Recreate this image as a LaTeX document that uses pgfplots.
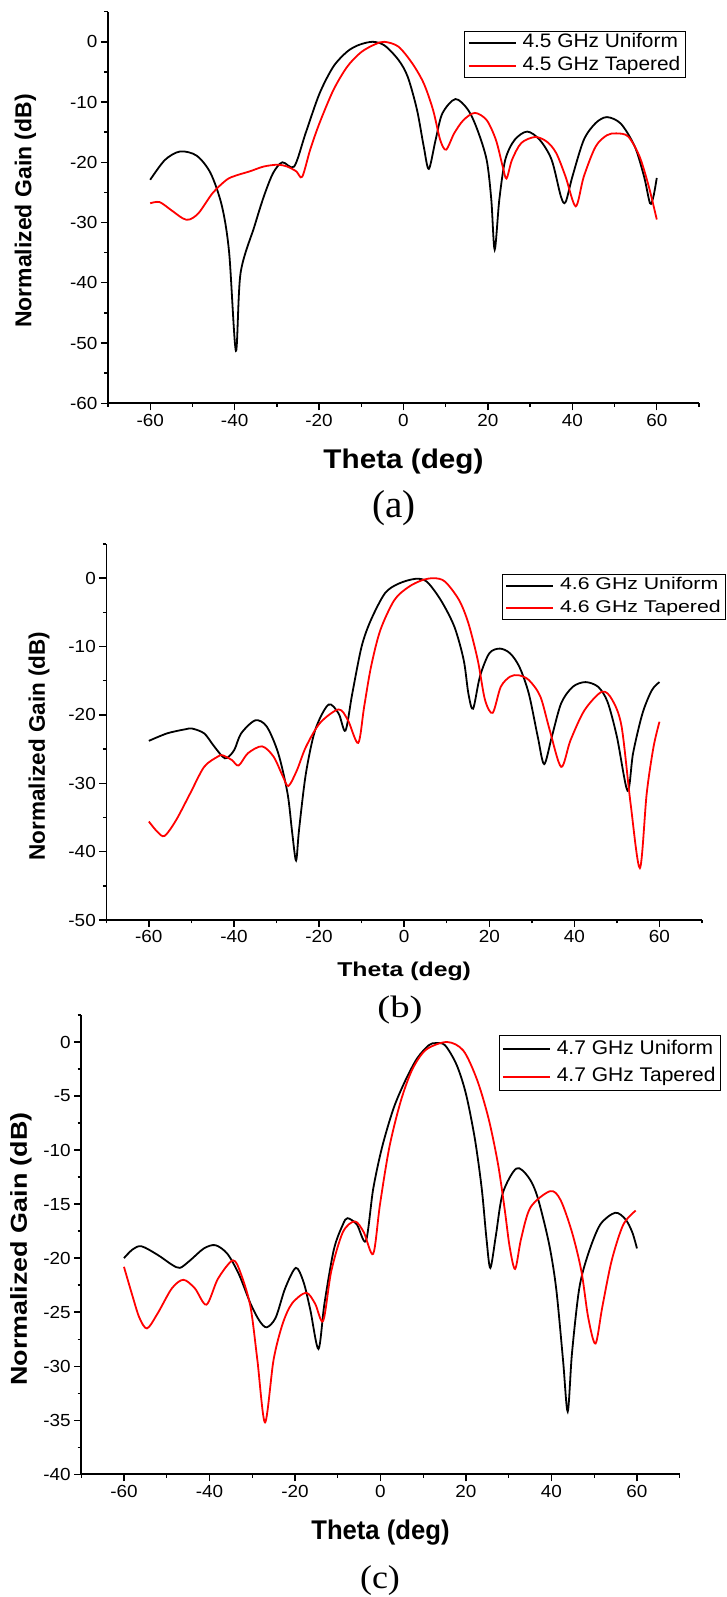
\documentclass[border=0pt]{standalone}
\usepackage{graphicx}
\usepackage{fontspec}
\setmainfont{Liberation Sans}
\newfontfamily\seriffont{Liberation Serif}
\usepackage{pgfplots}
\pgfplotsset{compat=1.18}
\newcommand{\fs}[1]{\fontsize{#1}{#1}\selectfont}

\pgfplotsset{
  myaxis/.style={
    scale only axis,
    axis lines*=left,
    tick align=outside,
    xmin=-70, xmax=70,
    xtick={-60,-40,...,60},
    minor xtick={-70,-50,...,70},
    major tick length=7pt,
    minor tick length=3.5pt,
    tick style={black, line width=1.4pt},
    axis line style={line width=1.6pt},
    /pgf/number format/assume math mode=true,
    tick label style={font=\fs{17.5}},
    xticklabel={\fs{17.5}\scalebox{1.08}[1]{\pgfmathprintnumber{\tick}}},
    yticklabel={\fs{17.5}\scalebox{1.08}[1]{\pgfmathprintnumber{\tick}}},
    legend cell align=left,
    legend image code/.code={\draw[##1, line width=1.8pt] (0pt,0pt) -- (47pt,0pt);},
    legend style={anchor=north west, draw=black, line width=0.8pt, inner xsep=3pt, inner ysep=0pt, row sep=0pt, column sep=4pt},
  },
  uni/.style={black, line width=1.8pt, smooth},
  tap/.style={red, line width=1.8pt, smooth},
}

\begin{document}
\begin{tikzpicture}
\useasboundingbox (0pt,0pt) rectangle (727pt,1597pt);

% ---------------- (a) ----------------
\begin{axis}[myaxis,
  at={(108pt,1193.7pt)}, anchor=south west,
  width=591pt, height=391.6pt,
  ymin=-60, ymax=5,
  ytick={-60,-50,...,0}, minor ytick={-55,-45,...,5},
  xlabel={\scalebox{1.1}[1]{Theta (deg)}},
  ylabel={Normalized Gain (dB)},
  xlabel style={font=\bfseries\fs{27}, at={(axis description cs:0.5,-0.166)}, anchor=base},
  ylabel style={font=\bfseries\fs{23}, at={(axis description cs:-0.1396,0.491)}, anchor=center},
  legend style={at={(axis description cs:0.603,0.951)}, font=\fs{19.5},
    nodes={text height=14pt, text depth=4pt, inner ysep=2.5pt, inner xsep=2pt}},
]
\addplot[uni] coordinates {
(-60,-22.9) (-56.5,-19.6) (-52.9,-18.2) (-49,-18.9) (-45.7,-21.8) (-43,-27.3) (-41.3,-35) (-39.7,-51.3)
(-38.6,-38.4) (-35.3,-30.6) (-33.1,-25.7) (-30.9,-21.8) (-28.7,-20) (-25.9,-20.7) (-23.2,-15.2)
(-19.9,-8.6) (-16.6,-4.1) (-13.3,-1.6) (-10.5,-0.5) (-7.3,0) (-4.5,-0.6) (-1.2,-3) (1,-5.8)
(3.2,-11.3) (4.8,-17.4) (6,-21.1) (7.6,-16.3) (9.2,-11.9) (12.3,-9.5) (15.3,-11.3) (17.5,-14.6)
(19.7,-19.6) (20.8,-26.2) (21.6,-34.5) (22.7,-26.2) (24.1,-19.6) (26.3,-16.3) (29.3,-14.9)
(32.3,-16.3) (35.1,-19.6) (37.3,-25.7) (38.4,-26.6) (40,-22.4) (42.7,-16.3) (45.5,-13.5)
(48.2,-12.5) (51.5,-13.6) (54.8,-17.4) (57,-22.4) (58.4,-26.8) (59.2,-25.7) (60,-22.6)
};
\addlegendentry{\scalebox{1.07}[1]{4.5 GHz Uniform}}
\addplot[tap] coordinates {
(-60,-26.8) (-57.8,-26.6) (-55.1,-27.9) (-52.3,-29.3) (-50.7,-29.5) (-48.5,-28.4) (-45.2,-25.1)
(-41.9,-22.9) (-39.7,-22.2) (-36.4,-21.5) (-33.1,-20.7) (-29.8,-20.4) (-27.6,-20.7) (-25.4,-21.5)
(-24,-22.4) (-22.1,-17.9) (-19.9,-13.5) (-16.6,-8) (-13.3,-4.1) (-10,-1.7) (-6.7,-0.4) (-4.5,0)
(-1.2,-0.8) (2.1,-3.6) (4.8,-6.9) (7,-11.3) (8.7,-16.3) (10.1,-17.9) (12,-15.2) (14.2,-13)
(16.9,-11.8) (19.7,-13) (21.9,-16.3) (23.5,-20.7) (24.4,-22.7) (25.7,-19.6) (27.9,-16.8)
(31.2,-15.8) (34,-16.6) (36.2,-18.5) (38.4,-22.4) (40.8,-27.3) (42.7,-22.4) (45.5,-17.4)
(48.2,-15.5) (50.4,-15.2) (53.2,-15.7) (55.9,-19) (58.1,-24) (60,-29.5)
};
\addlegendentry{\scalebox{1.07}[1]{4.5 GHz Tapered}}
\end{axis}

% ---------------- (b) ----------------
\begin{axis}[myaxis,
  at={(106.3pt,677pt)}, anchor=south west,
  width=595.7pt, height=376pt,
  ymin=-50, ymax=5,
  ytick={-50,-40,...,0}, minor ytick={-45,-35,...,5},
  xlabel={\scalebox{1.24}[1]{Theta (deg)}},
  ylabel={Normalized Gain (dB)},
  xlabel style={font=\bfseries\fs{20}, at={(axis description cs:0.5,-0.1508)}, anchor=base},
  ylabel style={font=\bfseries\fs{22.5}, at={(axis description cs:-0.113,0.463)}, anchor=center},
  legend style={at={(axis description cs:0.664,0.920)}, font=\fs{17},
    nodes={text height=12pt, text depth=3.5pt, inner ysep=3.5pt, inner xsep=2pt}},
]
\addplot[uni] coordinates {
(-60,-23.8) (-55.7,-22.7) (-51.4,-22.1) (-49.8,-22) (-47,-22.7) (-44.9,-24.4) (-42.7,-26.1)
(-41.6,-26.3) (-39.9,-25.1) (-38.3,-22.7) (-35,-20.8) (-32.3,-21.7) (-29.6,-25.6) (-27.4,-31.5)
(-26.3,-37.3) (-25.4,-41.3) (-24.7,-36.8) (-23.1,-28.6) (-20.9,-22.2) (-17.8,-18.5) (-15.4,-19.8)
(-13.8,-22.3) (-12.2,-16.9) (-10,-10) (-7.8,-6.1) (-4.5,-2.2) (-1.3,-0.8) (2.6,-0.1) (5.3,-0.5)
(8.6,-3.2) (11.8,-7.1) (14,-12) (15.1,-16.9) (16.2,-19.1) (17.8,-14.4) (20,-11) (22.5,-10.3)
(24.9,-11) (27.1,-13) (29.3,-16.9) (31.4,-23.2) (32.9,-27.2) (34.7,-23.2) (36.9,-18.3)
(39.6,-15.9) (42.6,-15.2) (45.6,-15.9) (47.8,-18.1) (50,-23.2) (52.5,-31.1) (53.8,-25.6)
(56,-19.8) (58.2,-16.4) (60,-15.2)
};
\addlegendentry{\scalebox{1.25}[1]{4.6 GHz Uniform}}
\addplot[tap] coordinates {
(-60,-35.6) (-58,-37.1) (-56.3,-37.7) (-53.6,-35.4) (-50.3,-31.5) (-47,-27.6) (-43.8,-26.1)
(-42.7,-25.9) (-40.5,-26.6) (-38.9,-27.4) (-36.7,-25.6) (-33.4,-24.6) (-30.7,-26.1) (-28.5,-29)
(-27.2,-30.4) (-25.2,-28.1) (-23.1,-24.7) (-19.8,-21.2) (-15.4,-19.2) (-13.2,-20.8) (-10.8,-24.1)
(-9.4,-18.8) (-7.8,-13) (-5.6,-7.6) (-2.3,-3.2) (1,-1.3) (4.2,-0.3) (7,0) (9.6,-0.5) (12.9,-3.2)
(15.1,-6.6) (17.3,-12) (19,-17.8) (20.8,-19.7) (22.7,-15.9) (24.9,-14.4) (26.9,-14.2) (29.3,-14.9)
(32,-17.3) (34.2,-22.2) (36.9,-27.6) (39.1,-23.7) (42.4,-19.3) (46.5,-16.6) (48.9,-17.8)
(51.1,-21.7) (53.2,-32.9) (55.4,-42.4) (57,-31.5) (58.6,-24.7) (60,-21)
};
\addlegendentry{\scalebox{1.25}[1]{4.6 GHz Tapered}}
\end{axis}

% ---------------- (c) ----------------
\begin{axis}[myaxis,
  at={(81.2pt,122.7pt)}, anchor=south west,
  width=598.5pt, height=459.3pt,
  ymin=-40, ymax=2.5,
  ytick={-40,-35,...,0}, minor ytick={-37.5,-32.5,...,2.5},
  xlabel={\scalebox{0.95}[1]{Theta (deg)}},
  ylabel={\scalebox{1.17}[1]{Normalized Gain (dB)}},
  xlabel style={font=\bfseries\fs{27}, at={(axis description cs:0.5,-0.143)}, anchor=base},
  ylabel style={font=\bfseries\fs{23}, at={(axis description cs:-0.1006,0.4905)}, anchor=center},
  legend style={at={(axis description cs:0.6974,0.9565)}, font=\fs{19.8},
    nodes={text height=15pt, text depth=4.5pt, inner ysep=4pt, inner xsep=2pt}},
]
\addplot[uni] coordinates {
(-60,-20) (-58,-19.2) (-55.9,-18.9) (-52.1,-19.7) (-48.8,-20.6) (-46.9,-20.9) (-44.5,-20.2)
(-41.3,-19.1) (-38.6,-18.8) (-35.8,-19.6) (-33.1,-21.5) (-30.4,-24.2) (-28.3,-25.8) (-26.6,-26.4)
(-24.5,-25.5) (-22.3,-22.8) (-19.8,-20.9) (-18,-22.2) (-16.4,-24.8) (-14.5,-28.4) (-13.1,-24.2)
(-10.9,-19.2) (-8.8,-16.9) (-7.7,-16.3) (-5.5,-16.9) (-3.4,-18.4) (-1.7,-13.6) (0.4,-9.7)
(3.1,-6.1) (5.9,-3.5) (8.6,-1.5) (11.3,-0.3) (12.9,-0.1) (15.1,-0.3) (17.8,-2.1) (20,-4.8)
(22.1,-9) (23.7,-13.6) (24.8,-18.2) (25.7,-20.9) (27,-17.9) (28.6,-14) (31.8,-11.7) (34.6,-12.5)
(36.7,-14.3) (39.4,-18.6) (41.1,-22.8) (42.7,-29.4) (43.8,-34.2) (44.8,-28.8) (46.5,-22.8)
(48.6,-19.6) (51.4,-16.9) (54.9,-15.8) (57.3,-16.4) (58.9,-17.6) (60,-19.1)
};
\addlegendentry{\scalebox{1.06}[1]{4.7 GHz Uniform}}
\addplot[tap] coordinates {
(-60,-20.8) (-58,-23.5) (-56.4,-25.5) (-54.6,-26.5) (-52.1,-25.1) (-48.8,-22.8) (-46.1,-22)
(-43.4,-22.8) (-40.7,-24.3) (-38,-21.9) (-34.5,-20.2) (-32.6,-21.5) (-30.4,-24.5) (-28.8,-29.4)
(-27,-35.2) (-25,-29.4) (-22.9,-26.1) (-20.7,-24.2) (-17.4,-23.2) (-15.3,-24.2) (-13.4,-25.8)
(-11.5,-21.2) (-8.8,-17.6) (-6,-16.6) (-3.9,-17.6) (-1.7,-19.6) (-0.1,-15) (2.1,-9.7) (4.8,-5.4)
(7.5,-2.5) (10.7,-0.7) (15.6,0) (19.4,-0.8) (22.6,-3.5) (25.3,-7.1) (27.5,-11.3) (29.1,-15.6)
(30.2,-18.9) (31.5,-21) (32.9,-18.2) (35.1,-15.3) (39.7,-13.8) (42.1,-14.6) (44.8,-17.6)
(47,-21.2) (48.6,-25.5) (50.3,-27.9) (51.9,-24.5) (54.1,-20.2) (56.8,-16.9) (59.7,-15.6)
};
\addlegendentry{\scalebox{1.06}[1]{4.7 GHz Tapered}}
\end{axis}

\node[font=\seriffont\fs{39}] at (393.7pt,1089pt) {(a)};
\node[font=\seriffont\fs{31}] at (400pt,587pt) {\scalebox{1.25}[1]{(b)}};
\node[font=\seriffont\fs{33}] at (380pt,16pt) {\scalebox{1.09}[1]{(c)}};
\end{tikzpicture}
\end{document}
